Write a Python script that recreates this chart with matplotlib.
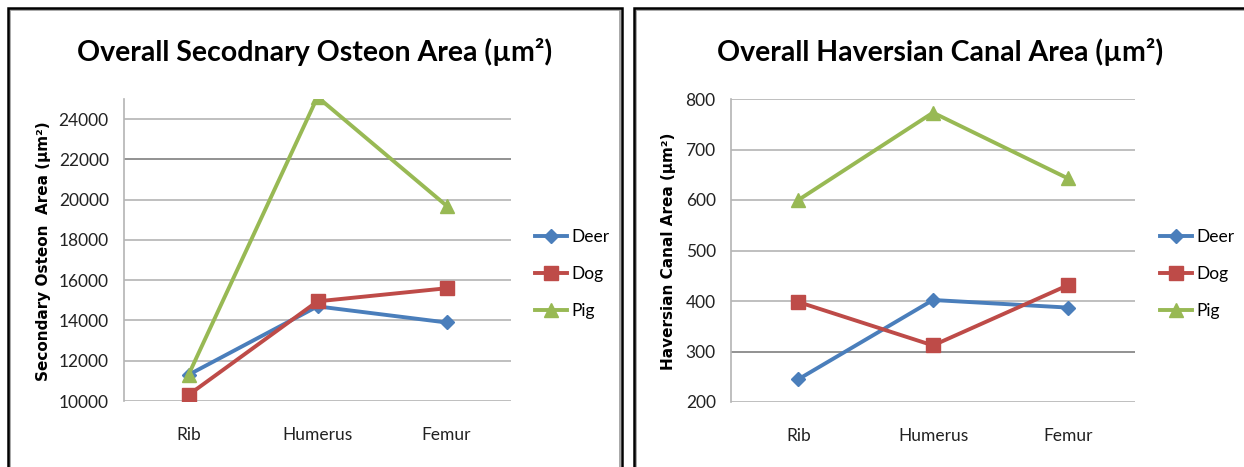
import matplotlib
matplotlib.use('Agg')
import matplotlib.pyplot as plt
from matplotlib.patches import Rectangle

# bone sites and species
sites = ['Rib', 'Humerus', 'Femur']
species = ['Deer', 'Dog', 'Pig']

# secondary osteon area (um^2)
osteon_deer = [11300, 14700, 13900]
osteon_dog = [10300, 14950, 15600]
osteon_pig = [11300, 25100, 19700]

# haversian canal area (um^2)
canal_deer = [245, 402, 387]
canal_dog = [398, 312, 431]
canal_pig = [600, 773, 643]

colors = {'Deer': '#4a7ebb', 'Dog': '#be4b48', 'Pig': '#98b954'}
markers = {'Deer': 'D', 'Dog': 's', 'Pig': '^'}
msizes = {'Deer': 7, 'Dog': 9.5, 'Pig': 9.5}

NARROW = ['Lato', 'DejaVu Sans']
W, H = 1244, 467

fig = plt.figure(figsize=(W / 100, H / 100), dpi=100)

# panel frames (black border with thin grey inner edge)
def frame(x0, y0, x1, y1):
    fig.patches.append(Rectangle((x0 / W, 1 - y1 / H), (x1 - x0) / W, (y1 - y0) / H,
                                 transform=fig.transFigure, fill=False,
                                 edgecolor='#9a9a9a', linewidth=1.2, zorder=1))
    fig.patches.append(Rectangle(((x0 - 2) / W, 1 - (y1 + 2) / H), (x1 - x0 + 4) / W, (y1 - y0 + 4) / H,
                                 transform=fig.transFigure, fill=False,
                                 edgecolor='black', linewidth=1.8, zorder=2))

frame(10, 10, 620, 480)
frame(636, 10, 1260, 480)


def draw(rect, data, ylim, yticks, dark, title, ylabel, title_x, ylabel_x, leg_x):
    ax = fig.add_axes(rect)
    for name, vals in zip(species, data):
        ax.plot(range(len(sites)), vals, color=colors[name], marker=markers[name],
                markersize=msizes[name], linewidth=2.8, label=name, zorder=3)
    ax.set_xlim(-0.5, len(sites) - 0.5)
    ax.set_ylim(*ylim)
    ax.set_yticks(yticks)
    ax.set_xticks(range(len(sites)))
    ax.set_xticklabels(sites)
    for t in yticks:
        ax.axhline(t, color='#7f7f7f' if t == dark else '#b4b4b4', linewidth=1.2, zorder=1)
    for s in ['top', 'right', 'bottom']:
        ax.spines[s].set_visible(False)
    ax.spines['left'].set_color('#b4b4b4')
    ax.spines['left'].set_linewidth(1.2)
    ax.tick_params(axis='y', length=0, pad=11, labelsize=12.5, labelcolor='#222222')
    ax.tick_params(axis='x', length=0, pad=19, labelsize=12.5, labelcolor='#222222')
    for lab in ax.get_xticklabels() + ax.get_yticklabels():
        lab.set_family(NARROW)

    fig.text(title_x / W, 1 - 52 / H, title, ha='center', va='center',
             fontsize=20.5, fontweight='bold', family=NARROW)
    fig.text(ylabel_x / W, 1 - 251 / H, ylabel, ha='center', va='center', rotation=90,
             fontsize=11, fontweight='bold', family='DejaVu Sans')

    ax.legend(loc='center left', bbox_to_anchor=(leg_x / W, 1 - 274 / H),
              bbox_transform=fig.transFigure, frameon=False, borderpad=0,
              borderaxespad=0, handlelength=1.85, handletextpad=0.23,
              labelspacing=1.2, prop={'family': NARROW, 'size': 12.5})
    return ax


draw([124 / W, 1 - 401 / H, 387 / W, 302 / H],
     [osteon_deer, osteon_dog, osteon_pig], (10000, 25000),
     list(range(10000, 24001, 2000)), 22000,
     'Overall Secodnary Osteon Area (µm²)', 'Secondary Osteon  Area (µm²)',
     315, 44, 535)

draw([731 / W, 1 - 402 / H, 404 / W, 303 / H],
     [canal_deer, canal_dog, canal_pig], (200, 800),
     list(range(200, 801, 100)), 300,
     'Overall Haversian Canal Area (µm²)', 'Haversian Canal Area (µm²)',
     940, 668, 1160)

fig.savefig('out.png', dpi=100)
